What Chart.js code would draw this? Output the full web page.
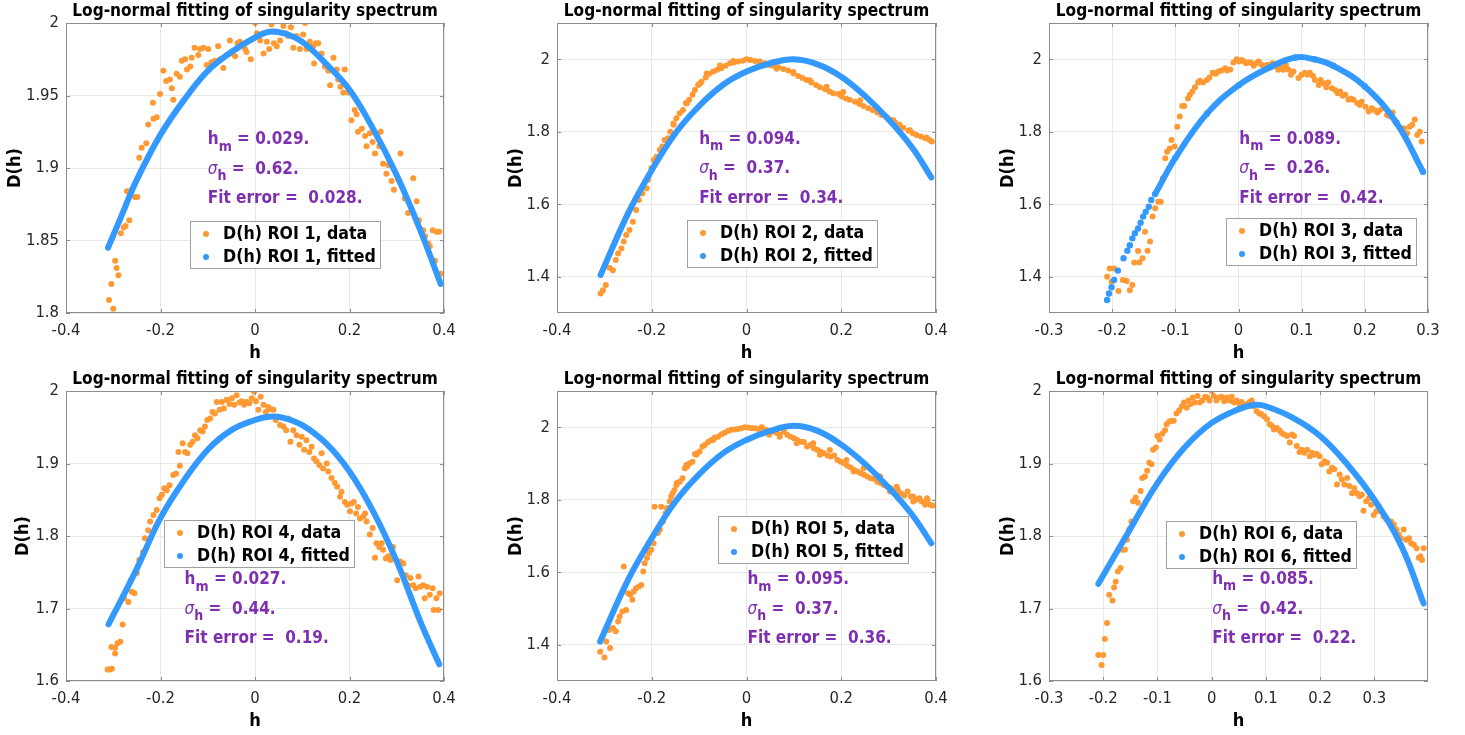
<!DOCTYPE html>
<html><head><meta charset="utf-8">
<script src="https://cdn.jsdelivr.net/npm/chart.js@4.4.1/dist/chart.umd.min.js"></script>
<style>
html,body{margin:0;padding:0;background:#fff;width:1465px;height:735px;overflow:hidden;}
canvas{position:absolute;}
</style></head><body>
<canvas id="c1"></canvas><canvas id="c2"></canvas><canvas id="c3"></canvas>
<canvas id="c4"></canvas><canvas id="c5"></canvas><canvas id="c6"></canvas>
<script>
// ---------- DATA ----------
const roi1Data = [[-0.309,1.809],[-0.304,1.820],[-0.300,1.803],[-0.296,1.836],[-0.293,1.831],[-0.289,1.826],[-0.284,1.855],[-0.278,1.859],[-0.274,1.860],[-0.271,1.884],[-0.266,1.864],[-0.261,1.885],[-0.254,1.880],[-0.249,1.880],[-0.245,1.907],[-0.240,1.914],[-0.230,1.917],[-0.226,1.930],[-0.216,1.945],[-0.215,1.934],[-0.208,1.935],[-0.201,1.951],[-0.194,1.967],[-0.188,1.960],[-0.180,1.961],[-0.176,1.955],[-0.173,1.947],[-0.166,1.965],[-0.159,1.963],[-0.155,1.974],[-0.148,1.975],[-0.144,1.968],[-0.137,1.970],[-0.134,1.976],[-0.128,1.983],[-0.120,1.978],[-0.116,1.982],[-0.109,1.983],[-0.102,1.971],[-0.099,1.982],[-0.092,1.973],[-0.085,1.974],[-0.078,1.984],[-0.074,1.975],[-0.067,1.969],[-0.060,1.978],[-0.053,1.988],[-0.049,1.979],[-0.042,1.977],[-0.037,1.986],[-0.032,1.987],[-0.021,1.982],[-0.018,1.980],[-0.009,1.975],[0.000,2.000],[0.004,1.993],[0.011,1.988],[0.018,1.979],[0.025,1.987],[0.030,1.982],[0.035,1.999],[0.040,1.986],[0.046,1.984],[0.053,1.988],[0.060,1.998],[0.066,1.993],[0.070,1.991],[0.076,1.997],[0.081,1.983],[0.088,1.991],[0.095,1.982],[0.102,1.992],[0.106,2.000],[0.109,1.982],[0.116,1.987],[0.123,1.984],[0.125,1.972],[0.129,1.986],[0.134,1.986],[0.141,1.979],[0.148,1.970],[0.155,1.967],[0.159,1.957],[0.166,1.976],[0.173,1.968],[0.176,1.961],[0.181,1.956],[0.187,1.952],[0.190,1.968],[0.197,1.952],[0.204,1.933],[0.211,1.940],[0.215,1.937],[0.218,1.925],[0.226,1.927],[0.233,1.922],[0.236,1.915],[0.243,1.924],[0.249,1.918],[0.254,1.910],[0.263,1.915],[0.266,1.925],[0.271,1.903],[0.278,1.896],[0.282,1.902],[0.289,1.891],[0.294,1.885],[0.303,1.892],[0.308,1.910],[0.317,1.879],[0.324,1.869],[0.335,1.893],[0.342,1.877],[0.347,1.864],[0.356,1.857],[0.360,1.853],[0.367,1.848],[0.370,1.846],[0.376,1.857],[0.381,1.836],[0.384,1.856],[0.390,1.856],[0.393,1.827]];
const roi1Fit = [[-0.311,1.845],[-0.28,1.869],[-0.25,1.892],[-0.2,1.923],[-0.15,1.947],[-0.1,1.967],[-0.05,1.980],[0,1.990],[0.03,1.994],[0.06,1.993],[0.1,1.987],[0.15,1.972],[0.2,1.954],[0.25,1.927],[0.3,1.895],[0.35,1.857],[0.393,1.820]];

const roi2Data = [[-0.308,1.354],[-0.303,1.363],[-0.297,1.377],[-0.289,1.425],[-0.282,1.418],[-0.276,1.446],[-0.271,1.464],[-0.264,1.478],[-0.259,1.497],[-0.254,1.515],[-0.247,1.529],[-0.240,1.552],[-0.233,1.584],[-0.227,1.612],[-0.220,1.630],[-0.211,1.644],[-0.208,1.667],[-0.201,1.699],[-0.196,1.722],[-0.190,1.731],[-0.183,1.750],[-0.178,1.759],[-0.173,1.777],[-0.166,1.782],[-0.161,1.800],[-0.154,1.819],[-0.148,1.837],[-0.141,1.851],[-0.134,1.860],[-0.128,1.879],[-0.121,1.888],[-0.114,1.902],[-0.109,1.915],[-0.102,1.929],[-0.095,1.938],[-0.086,1.950],[-0.079,1.960],[-0.070,1.966],[-0.062,1.971],[-0.053,1.975],[-0.044,1.982],[-0.035,1.989],[-0.027,1.991],[-0.018,1.994],[-0.008,1.996],[0,2.0],[0.008,1.998],[0.018,1.995],[0.028,1.994],[0.039,1.989],[0.048,1.984],[0.056,1.982],[0.067,1.978],[0.078,1.973],[0.088,1.969],[0.099,1.961],[0.109,1.954],[0.118,1.948],[0.127,1.943],[0.137,1.936],[0.147,1.929],[0.155,1.923],[0.166,1.917],[0.175,1.911],[0.183,1.906],[0.194,1.904],[0.201,1.897],[0.210,1.892],[0.218,1.888],[0.229,1.883],[0.238,1.877],[0.247,1.871],[0.257,1.865],[0.266,1.860],[0.276,1.853],[0.285,1.846],[0.296,1.840],[0.304,1.833],[0.314,1.825],[0.323,1.819],[0.331,1.811],[0.342,1.803],[0.351,1.796],[0.359,1.791],[0.368,1.787],[0.377,1.782],[0.386,1.777],[0.391,1.773],
  [-0.084,1.961],[-0.056,1.983],[-0.028,1.995],[0.028,1.993],[0.064,1.974],[0.099,1.965],[0.134,1.942],[0.169,1.924],[0.204,1.910],[0.240,1.887],[0.275,1.864],[0.310,1.832],[0.345,1.804],[0.380,1.784],[-0.098,1.933],[-0.126,1.878],[-0.154,1.823],[-0.168,1.777]];
const roi2Fit = [[-0.308,1.405],[-0.25,1.575],[-0.2,1.694],[-0.15,1.796],[-0.1,1.871],[-0.05,1.929],[0,1.966],[0.05,1.989],[0.1,2.0],[0.15,1.986],[0.2,1.952],[0.25,1.899],[0.3,1.834],[0.35,1.756],[0.39,1.674]];

const roi3Data = [[-0.208,1.400],[-0.204,1.423],[-0.201,1.386],[-0.197,1.423],[-0.190,1.361],[-0.183,1.391],[-0.177,1.388],[-0.172,1.363],[-0.168,1.377],[-0.165,1.439],[-0.159,1.471],[-0.157,1.439],[-0.152,1.451],[-0.148,1.524],[-0.144,1.472],[-0.140,1.497],[-0.136,1.566],[-0.132,1.589],[-0.127,1.607],[-0.123,1.607],[-0.120,1.671],[-0.116,1.727],[-0.113,1.745],[-0.109,1.754],[-0.106,1.777],[-0.101,1.759],[-0.097,1.814],[-0.093,1.842],[-0.089,1.871],[-0.086,1.871],[-0.080,1.892],[-0.077,1.902],[-0.073,1.911],[-0.069,1.923],[-0.064,1.936],[-0.061,1.941],[-0.056,1.936],[-0.050,1.943],[-0.046,1.950],[-0.041,1.963],[-0.036,1.960],[-0.032,1.966],[-0.027,1.969],[-0.021,1.975],[-0.018,1.969],[-0.013,1.972],[-0.008,1.991],[-0.003,2.000],[0.001,1.994],[0.005,1.998],[0.009,1.994],[0.012,1.989],[0.016,1.991],[0.019,1.991],[0.024,1.982],[0.028,1.989],[0.032,1.994],[0.037,1.984],[0.040,1.980],[0.045,1.984],[0.050,1.984],[0.054,1.989],[0.059,1.980],[0.063,1.971],[0.067,1.977],[0.071,1.971],[0.075,1.984],[0.079,1.972],[0.083,1.957],[0.087,1.966],[0.095,1.948],[0.100,1.957],[0.105,1.963],[0.109,1.957],[0.113,1.963],[0.118,1.954],[0.121,1.943],[0.127,1.929],[0.130,1.943],[0.135,1.934],[0.139,1.923],[0.142,1.936],[0.148,1.920],[0.153,1.915],[0.157,1.906],[0.161,1.911],[0.165,1.899],[0.169,1.902],[0.174,1.888],[0.178,1.892],[0.182,1.888],[0.188,1.879],[0.192,1.874],[0.195,1.883],[0.201,1.869],[0.206,1.856],[0.211,1.865],[0.215,1.860],[0.220,1.853],[0.224,1.860],[0.230,1.865],[0.235,1.846],[0.240,1.842],[0.244,1.853],[0.248,1.828],[0.254,1.814],[0.259,1.800],[0.262,1.810],[0.267,1.796],[0.271,1.814],[0.275,1.819],[0.279,1.834],[0.283,1.791],[0.287,1.800],[0.290,1.773]];
const roi3Fit = [[-0.208,1.336],[-0.205,1.354],[-0.201,1.371],[-0.197,1.391],[-0.191,1.417],[-0.182,1.451],[-0.176,1.472],[-0.172,1.487],[-0.168,1.506],[-0.164,1.520],[-0.159,1.533],[-0.155,1.549],[-0.151,1.566],[-0.147,1.579],[-0.142,1.593],[-0.138,1.612],[-0.132,1.628],[-0.1,1.728],[-0.05,1.850],[0,1.928],[0.05,1.978],[0.09,2.005],[0.12,2.0],[0.15,1.982],[0.2,1.925],[0.25,1.825],[0.292,1.690]];

const roi4Data = [[-0.312,1.616],[-0.307,1.616],[-0.303,1.617],[-0.304,1.647],[-0.296,1.646],[-0.296,1.638],[-0.291,1.652],[-0.285,1.654],[-0.280,1.678],[-0.277,1.714],[-0.268,1.709],[-0.261,1.723],[-0.255,1.721],[-0.263,1.739],[-0.250,1.749],[-0.247,1.760],[-0.245,1.767],[-0.237,1.778],[-0.233,1.797],[-0.226,1.808],[-0.222,1.820],[-0.215,1.829],[-0.208,1.836],[-0.202,1.852],[-0.197,1.857],[-0.192,1.866],[-0.187,1.863],[-0.181,1.870],[-0.173,1.884],[-0.167,1.886],[-0.162,1.916],[-0.159,1.897],[-0.153,1.928],[-0.148,1.916],[-0.143,1.914],[-0.137,1.926],[-0.132,1.930],[-0.127,1.939],[-0.122,1.935],[-0.116,1.946],[-0.111,1.944],[-0.106,1.951],[-0.101,1.960],[-0.095,1.962],[-0.090,1.971],[-0.085,1.969],[-0.081,1.985],[-0.075,1.974],[-0.070,1.985],[-0.066,1.976],[-0.060,1.988],[-0.054,1.982],[-0.049,1.990],[-0.044,1.981],[-0.039,1.994],[-0.033,1.984],[-0.028,1.986],[-0.023,1.981],[-0.018,1.985],[-0.012,1.983],[-0.007,1.990],[-0.002,1.999],[0.002,1.986],[0.007,1.974],[0.012,1.992],[0.018,1.981],[0.023,1.971],[0.028,1.978],[0.033,1.975],[0.039,1.974],[0.044,1.960],[0.053,1.953],[0.060,1.951],[0.066,1.946],[0.070,1.962],[0.075,1.930],[0.081,1.946],[0.088,1.939],[0.094,1.926],[0.099,1.937],[0.104,1.919],[0.109,1.932],[0.115,1.916],[0.120,1.923],[0.125,1.907],[0.130,1.903],[0.136,1.898],[0.141,1.914],[0.144,1.893],[0.152,1.900],[0.155,1.889],[0.162,1.880],[0.169,1.873],[0.174,1.868],[0.180,1.854],[0.183,1.861],[0.190,1.847],[0.195,1.843],[0.201,1.834],[0.204,1.845],[0.209,1.847],[0.214,1.831],[0.218,1.840],[0.222,1.824],[0.229,1.827],[0.233,1.831],[0.236,1.820],[0.243,1.802],[0.249,1.811],[0.254,1.770],[0.257,1.790],[0.263,1.785],[0.268,1.790],[0.271,1.781],[0.277,1.769],[0.282,1.772],[0.287,1.767],[0.292,1.785],[0.301,1.739],[0.307,1.765],[0.314,1.762],[0.319,1.746],[0.324,1.732],[0.329,1.742],[0.335,1.732],[0.340,1.728],[0.346,1.744],[0.350,1.730],[0.356,1.732],[0.359,1.714],[0.364,1.730],[0.370,1.719],[0.376,1.728],[0.378,1.698],[0.384,1.714],[0.388,1.698],[0.391,1.721]];
const roi4Fit = [[-0.310,1.678],[-0.25,1.755],[-0.2,1.825],[-0.15,1.877],[-0.1,1.919],[-0.05,1.946],[0,1.960],[0.03,1.9645],[0.06,1.963],[0.1,1.953],[0.15,1.928],[0.2,1.889],[0.25,1.834],[0.3,1.765],[0.35,1.682],[0.39,1.623]];

const roi5Data = [[-0.309,1.381],[-0.300,1.365],[-0.296,1.409],[-0.288,1.391],[-0.290,1.441],[-0.282,1.446],[-0.276,1.437],[-0.271,1.464],[-0.268,1.478],[-0.262,1.492],[-0.259,1.616],[-0.254,1.496],[-0.250,1.542],[-0.245,1.538],[-0.241,1.524],[-0.238,1.547],[-0.233,1.556],[-0.227,1.561],[-0.222,1.565],[-0.218,1.602],[-0.215,1.625],[-0.210,1.639],[-0.206,1.653],[-0.201,1.662],[-0.196,1.680],[-0.194,1.781],[-0.187,1.708],[-0.183,1.717],[-0.180,1.781],[-0.176,1.740],[-0.171,1.763],[-0.168,1.777],[-0.162,1.795],[-0.156,1.818],[-0.152,1.827],[-0.147,1.846],[-0.141,1.850],[-0.135,1.859],[-0.130,1.887],[-0.125,1.892],[-0.120,1.901],[-0.114,1.905],[-0.109,1.926],[-0.104,1.928],[-0.099,1.933],[-0.093,1.947],[-0.088,1.951],[-0.081,1.959],[-0.074,1.965],[-0.067,1.972],[-0.060,1.974],[-0.053,1.981],[-0.046,1.985],[-0.039,1.990],[-0.032,1.993],[-0.025,1.994],[-0.018,1.995],[-0.011,1.997],[-0.004,2.000],[0.004,1.999],[0.011,1.997],[0.018,1.997],[0.025,1.995],[0.032,2.000],[0.041,1.993],[0.048,1.979],[0.055,1.988],[0.063,1.985],[0.070,1.979],[0.079,1.988],[0.086,1.979],[0.093,1.974],[0.100,1.970],[0.107,1.965],[0.114,1.960],[0.121,1.959],[0.128,1.947],[0.135,1.951],[0.142,1.942],[0.149,1.938],[0.156,1.933],[0.163,1.928],[0.171,1.922],[0.178,1.919],[0.185,1.922],[0.192,1.910],[0.199,1.905],[0.206,1.901],[0.213,1.894],[0.220,1.889],[0.227,1.882],[0.234,1.878],[0.241,1.873],[0.248,1.869],[0.255,1.864],[0.262,1.859],[0.269,1.858],[0.276,1.850],[0.283,1.846],[0.290,1.841],[0.297,1.836],[0.304,1.832],[0.311,1.824],[0.319,1.827],[0.326,1.818],[0.333,1.812],[0.340,1.823],[0.347,1.809],[0.352,1.795],[0.359,1.800],[0.365,1.804],[0.370,1.795],[0.377,1.786],[0.382,1.800],[0.388,1.786],[0.393,1.784],
  [0.141,1.956],[0.176,1.9375],[0.211,1.910],[0.247,1.887],[0.282,1.864],[0.317,1.836],[0.352,1.809],[0.381,1.804],[0.106,1.956],[0.070,1.974],[0.155,1.924],[0.226,1.878],[0.303,1.823],[-0.070,1.965],[-0.106,1.924],[-0.127,1.896],[-0.148,1.841],[-0.159,1.809]];
const roi5Fit = [[-0.309,1.409],[-0.25,1.579],[-0.2,1.694],[-0.15,1.795],[-0.1,1.870],[-0.05,1.928],[0,1.965],[0.05,1.990],[0.1,2.004],[0.15,1.990],[0.2,1.952],[0.25,1.899],[0.3,1.834],[0.35,1.758],[0.39,1.680]];

const roi6Data = [[-0.209,1.636],[-0.203,1.622],[-0.200,1.636],[-0.197,1.658],[-0.193,1.680],[-0.189,1.719],[-0.183,1.711],[-0.180,1.729],[-0.177,1.737],[-0.173,1.751],[-0.168,1.756],[-0.165,1.781],[-0.160,1.781],[-0.156,1.795],[-0.152,1.809],[-0.148,1.820],[-0.145,1.848],[-0.140,1.853],[-0.136,1.846],[-0.131,1.862],[-0.128,1.880],[-0.123,1.882],[-0.119,1.890],[-0.115,1.901],[-0.111,1.899],[-0.108,1.919],[-0.103,1.922],[-0.100,1.938],[-0.096,1.933],[-0.091,1.941],[-0.086,1.946],[-0.083,1.954],[-0.078,1.958],[-0.074,1.959],[-0.070,1.959],[-0.065,1.969],[-0.060,1.973],[-0.055,1.979],[-0.051,1.984],[-0.046,1.977],[-0.043,1.987],[-0.039,1.982],[-0.035,1.991],[-0.031,1.984],[-0.026,1.993],[-0.022,1.984],[-0.017,1.987],[-0.012,1.992],[-0.008,1.991],[-0.004,1.987],[0,2.000],[0.004,1.993],[0.009,1.987],[0.014,1.991],[0.018,1.992],[0.023,1.986],[0.028,1.991],[0.033,1.987],[0.037,1.992],[0.041,1.984],[0.046,1.987],[0.051,1.982],[0.055,1.985],[0.060,1.981],[0.065,1.982],[0.070,1.985],[0.074,1.987],[0.078,1.979],[0.083,1.972],[0.088,1.969],[0.092,1.968],[0.097,1.965],[0.102,1.961],[0.107,1.954],[0.111,1.952],[0.115,1.947],[0.120,1.949],[0.125,1.946],[0.129,1.942],[0.134,1.940],[0.139,1.938],[0.144,1.929],[0.148,1.940],[0.152,1.938],[0.157,1.924],[0.162,1.916],[0.166,1.919],[0.171,1.915],[0.176,1.919],[0.181,1.910],[0.185,1.915],[0.189,1.912],[0.194,1.913],[0.199,1.910],[0.203,1.899],[0.208,1.903],[0.213,1.901],[0.217,1.889],[0.222,1.894],[0.226,1.892],[0.231,1.871],[0.236,1.885],[0.240,1.878],[0.245,1.871],[0.250,1.880],[0.254,1.869],[0.259,1.859],[0.263,1.866],[0.268,1.859],[0.273,1.855],[0.277,1.857],[0.280,1.835],[0.285,1.848],[0.290,1.852],[0.294,1.843],[0.299,1.829],[0.304,1.834],[0.308,1.841],[0.312,1.834],[0.317,1.827],[0.322,1.823],[0.327,1.820],[0.331,1.820],[0.336,1.816],[0.341,1.809],[0.345,1.802],[0.349,1.797],[0.354,1.809],[0.359,1.795],[0.364,1.797],[0.368,1.790],[0.373,1.788],[0.378,1.783],[0.382,1.770],[0.385,1.772],[0.388,1.767],[0.391,1.783]];
const roi6Fit = [[-0.209,1.734],[-0.15,1.810],[-0.1,1.873],[-0.05,1.922],[0,1.956],[0.05,1.975],[0.08,1.981],[0.1,1.979],[0.15,1.963],[0.2,1.938],[0.25,1.899],[0.3,1.850],[0.35,1.786],[0.391,1.707]];

const hmValues = ['0.029','0.094','0.089','0.027','0.095','0.085'];
const sigmaValues = ['0.62','0.37','0.26','0.44','0.37','0.42'];
const fitErrors = ['0.028','0.34','0.42','0.19','0.36','0.22'];

const xTicksA = [-0.4,-0.2,0,0.2,0.4];
const xTicksB = [-0.3,-0.2,-0.1,0,0.1,0.2,0.3];
const yTicks1 = [1.8,1.85,1.9,1.95,2];
const yTicksC = [1.4,1.6,1.8,2];
const yTicks4 = [1.6,1.7,1.8,1.9,2];

const TITLE = 'Log-normal fitting of singularity spectrum';

// ---------- STYLE / LAYOUT ----------
const ORANGE = '#FF9933', BLUE = '#3399FF', PURPLE = '#7E2FB0';
const GRID = '#e8e8e8', AXIS = '#8c8c8c', TEXT = '#262626';

function hasFont(f){
  const c=document.createElement('canvas').getContext('2d');
  const s='abcdefghijklmnopqrstuvwxyz0123456789';
  c.font='40px monospace'; const a=c.measureText(s).width;
  c.font=`40px '${f}', monospace`; const b=c.measureText(s).width;
  return Math.abs(a-b)>0.5;
}
const FAM = hasFont('DejaVu Sans Condensed') ? "'DejaVu Sans Condensed'" : "'DejaVu Sans'";
const mctx = document.createElement('canvas').getContext('2d');
function fitSize(weight, text, target){
  mctx.font = `${weight} 100px ${FAM}`;
  return Math.round(100*target/mctx.measureText(text).width*10)/10;
}
const SZ_TITLE = fitSize('bold', TITLE, 366);
const SZ_TICK = fitSize('normal', '1.95', 33);
const SZ_LEG = fitSize('bold', 'D(h) ROI 1, fitted', 153);
const SZ_ANN = fitSize('bold', 'Fit error =  0.028.', 155);
const SZ_LAB = fitSize('bold', 'D(h)', 40);

const panels = [
 {id:'c1',left:0,  top:0,  w:488,h:367,L:66,R:444,T:23,B:313,roi:1,data:roi1Data,fit:roi1Fit,xr:[-0.4,0.4],yr:[1.8,2],xt:xTicksA,yt:yTicks1,ann:[-0.1,1.9194],leg:[124,198],ylab:15},
 {id:'c2',left:488,top:0,  w:488,h:367,L:69,R:448,T:23,B:313,roi:2,data:roi2Data,fit:roi2Fit,xr:[-0.4,0.4],yr:[1.3,2.1],xt:xTicksA,yt:yTicksC,ann:[-0.1,1.779],leg:[130,197],ylab:28},
 {id:'c3',left:976,top:0,  w:489,h:367,L:73,R:452,T:23,B:313,roi:3,data:roi3Data,fit:roi3Fit,xr:[-0.3,0.3],yr:[1.3,2.1],xt:xTicksB,yt:yTicksC,ann:[0.0013,1.779],leg:[177,195],ylab:32,gapBelow:-0.131},
 {id:'c4',left:0,  top:367,w:488,h:368,L:66,R:444,T:24,B:314,roi:4,data:roi4Data,fit:roi4Fit,xr:[-0.4,0.4],yr:[1.6,2],xt:xTicksA,yt:yTicks4,ann:[-0.149,1.7393],leg:[98,129],ylab:23},
 {id:'c5',left:488,top:367,w:488,h:368,L:69,R:448,T:24,B:314,roi:5,data:roi5Data,fit:roi5Fit,xr:[-0.4,0.4],yr:[1.3,2.1],xt:xTicksA,yt:yTicksC,ann:[0.002,1.579],leg:[161,125],ylab:28},
 {id:'c6',left:976,top:367,w:489,h:368,L:73,R:452,T:24,B:314,roi:6,data:roi6Data,fit:roi6Fit,xr:[-0.3,0.399],yr:[1.6,2],xt:xTicksB,yt:yTicks4,ann:[0.001,1.7396],leg:[117,130],ylab:32}
];

function fmt(v){ const r = Math.round(v*1000)/1000; return r===0 ? '0' : String(r); }

function drawRich(ctx, x, y, parts){
  for (const p of parts){
    ctx.font = p.font;
    ctx.fillText(p.t, x, y + (p.dy||0));
    x += ctx.measureText(p.t).width;
  }
}

const framePlugin = {
  id:'frame',
  afterDraw(chart){
    const p = chart.$panel;
    const {ctx, chartArea:a, scales:{x, y}} = chart;
    ctx.save();
    ctx.strokeStyle = AXIS; ctx.lineWidth = 1;
    ctx.strokeRect(a.left+0.5, a.top+0.5, a.right-a.left-1, a.bottom-a.top-1);
    ctx.beginPath();
    for (const v of p.xt){ const px = Math.round(x.getPixelForValue(v))+0.5;
      ctx.moveTo(px, a.bottom); ctx.lineTo(px, a.bottom-4);
      ctx.moveTo(px, a.top); ctx.lineTo(px, a.top+4); }
    for (const v of p.yt){ const py = Math.round(y.getPixelForValue(v))+0.5;
      ctx.moveTo(a.left, py); ctx.lineTo(a.left+4, py);
      ctx.moveTo(a.right, py); ctx.lineTo(a.right-4, py); }
    ctx.stroke();
    ctx.fillStyle = '#000'; ctx.textAlign = 'center'; ctx.textBaseline = 'middle';
    ctx.font = `bold ${SZ_TITLE}px ${FAM}`;
    ctx.fillText(TITLE, (a.left+a.right)/2, a.top-11.5);
    ctx.font = `bold ${SZ_LAB}px ${FAM}`;
    ctx.fillText('h', (a.left+a.right)/2, a.bottom+40);
    ctx.save(); ctx.translate(p.ylab, (a.top+a.bottom)/2); ctx.rotate(-Math.PI/2);
    ctx.fillText('D(h)', 0, 0); ctx.restore();
    const i = p.roi-1;
    const ax = x.getPixelForValue(p.ann[0]), ay = y.getPixelForValue(p.ann[1]);
    ctx.fillStyle = PURPLE; ctx.textAlign = 'left'; ctx.textBaseline = 'middle';
    const fb = `bold ${SZ_ANN}px ${FAM}`, fs = `bold ${Math.round(SZ_ANN*0.85)}px ${FAM}`;
    drawRich(ctx, ax, ay, [{t:'h',font:fb},{t:'m',font:fs,dy:7},{t:' = '+hmValues[i]+'.',font:fb}]);
    drawRich(ctx, ax, ay+29.5, [{t:'\u03C3',font:`italic ${SZ_ANN}px ${FAM}`},{t:'h',font:fs,dy:7},{t:' =  '+sigmaValues[i]+'.',font:fb}]);
    drawRich(ctx, ax, ay+59, [{t:'Fit error =  '+fitErrors[i]+'.',font:fb}]);
    const bx = a.left+p.leg[0], by = a.top+p.leg[1], bw = 190, bh = 47;
    ctx.fillStyle = '#fff'; ctx.fillRect(bx, by, bw, bh);
    ctx.strokeStyle = '#a0a0a0'; ctx.strokeRect(bx+0.5, by+0.5, bw, bh);
    ctx.fillStyle = ORANGE; ctx.beginPath(); ctx.arc(bx+16, by+13, 3, 0, Math.PI*2); ctx.fill();
    ctx.fillStyle = BLUE; ctx.beginPath(); ctx.arc(bx+16, by+36, 3, 0, Math.PI*2); ctx.fill();
    ctx.fillStyle = '#000'; ctx.font = `bold ${SZ_LEG}px ${FAM}`;
    ctx.fillText(`D(h) ROI ${p.roi}, data`, bx+33, by+13.5);
    ctx.fillText(`D(h) ROI ${p.roi}, fitted`, bx+33, by+36.5);
    ctx.restore();
  }
};

for (const p of panels){
  const cv = document.getElementById(p.id);
  cv.width = p.w; cv.height = p.h;
  cv.style.left = p.left+'px'; cv.style.top = p.top+'px';
  cv.style.width = p.w+'px'; cv.style.height = p.h+'px';
  const tickFont = {family: FAM, size: SZ_TICK};
  new Chart(cv, {
    type:'scatter',
    data:{datasets:[
      {label:`D(h) ROI ${p.roi}, data`, data:p.data.map(([x,y])=>({x,y})), showLine:false,
       pointRadius:3, pointBackgroundColor:ORANGE, pointBorderWidth:0, order:2},
      {label:`D(h) ROI ${p.roi}, fitted`, data:p.fit.map(([x,y])=>({x,y})), showLine:true,
       borderColor:BLUE, borderWidth:6, borderCapStyle:'round', borderJoinStyle:'round',
       tension:0.4,
       pointRadius: p.gapBelow!==undefined ? 3.2 : 0, pointBackgroundColor:BLUE, pointBorderWidth:0,
       segment:{borderColor: c => (p.gapBelow!==undefined && c.p1.parsed.x <= p.gapBelow) ? 'rgba(0,0,0,0)' : undefined},
       order:1}
    ]},
    options:{
      responsive:false, animation:false, devicePixelRatio:1, events:[],
      layout:{padding:{left:0, top:p.T, right:p.w-p.R, bottom:0}},
      plugins:{legend:{display:false}, tooltip:{enabled:false}, title:{display:false}},
      scales:{
        x:{type:'linear', min:p.xr[0], max:p.xr[1],
           afterBuildTicks: ax => { ax.ticks = p.xt.map(v=>({value:v})); },
           afterFit: s => { s.height = p.h - p.B; },
           ticks:{font:tickFont, color:TEXT, padding:8, maxRotation:0, autoSkip:false, callback:v=>fmt(v)},
           grid:{color:GRID, drawTicks:false}, border:{display:false}},
        y:{type:'linear', min:p.yr[0], max:p.yr[1],
           afterBuildTicks: ax => { ax.ticks = p.yt.map(v=>({value:v})); },
           afterFit: s => { s.width = p.L; },
           ticks:{font:tickFont, color:TEXT, padding:7, autoSkip:false, callback:v=>fmt(v)},
           grid:{color:GRID, drawTicks:false}, border:{display:false}}
      }
    },
    plugins:[{id:'attach', beforeInit(c){ c.$panel = p; }}, framePlugin]
  });
}
</script>
</body></html>
